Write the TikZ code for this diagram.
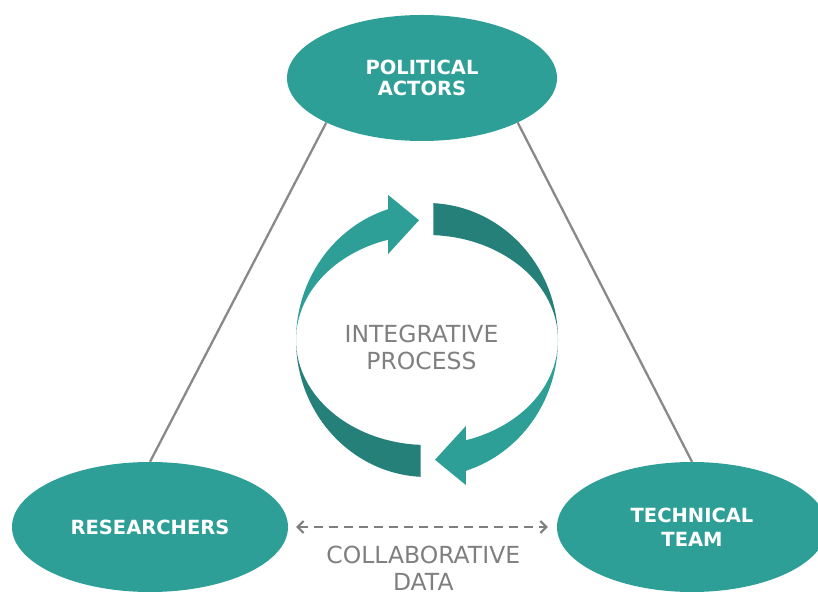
\documentclass[tikz,border=0pt]{standalone}
\usepackage{fontspec}
\setmainfont{DejaVu Sans}
\usepackage{tikz}
\usetikzlibrary{shapes}
\usetikzlibrary{positioning}
\usetikzlibrary{arrows.meta}
\definecolor{sarcelle}{RGB}{46,159,151}
\definecolor{sarcellefonce}{RGB}{38,128,122}
\definecolor{grisligne}{RGB}{137,137,137}
\definecolor{gristexte}{RGB}{127,127,127}

\begin{document}
\begin{tikzpicture}[x=1pt,y=1pt]
% définition des paramètres
\tikzstyle acteur=[ellipse,fill=sarcelle,text=white,align=center,inner sep=0pt,font=\bfseries\fontsize{19.5}{21}\selectfont]
\tikzstyle textegris=[text=gristexte,align=center,font=\fontsize{23.5}{26.7}\selectfont]
\tikzstyle traitgris=[color=grisligne,line width=2.3pt]
\tikzstyle pointilles=[color=gristexte,line width=2pt,dash pattern=on 9pt off 6pt,{Straight Barb[length=6pt,width=12pt]}-{Straight Barb[length=6pt,width=12pt]}]
\tikzstyle flecheclaire=[fill=sarcelle]
\tikzstyle flechefoncee=[fill=sarcellefonce]
\newcommand{\cerclex}{427} % centre des flèches
\newcommand{\cercley}{251}
\newcommand{\debut}{107.3}  % base de la pointe
\newcommand{\coupe}{87.2}   % bout de la partie foncée
% le cadre
\useasboundingbox (0,0) rectangle (818,591);
\clip (0,0) rectangle (818,591);
% les flèches circulaires (demi-axes 131 et 137 dehors, 131 et 105 dedans)
% la seconde moitié est tournée de 180
\foreach \rot in {0,180}{
\begin{scope}[shift={(\cerclex,\cercley)},rotate=\rot]
  \fill[flecheclaire] (180:131 and 137)
    arc[start angle=180,end angle=\debut,x radius=131,y radius=137]
    -- (\debut:131 and 152) -- (93.5:131 and 120) -- (\debut:131 and 90)
    -- (\debut:131 and 105)
    arc[start angle=\debut,end angle=180,x radius=131,y radius=105] -- cycle;
  \fill[flechefoncee] (\coupe:131 and 137)
    arc[start angle=\coupe,end angle=0,x radius=131,y radius=137]
    arc[start angle=0,end angle=\coupe,x radius=131,y radius=105] -- cycle;
\end{scope}
}
% les acteurs
\node[acteur,minimum width=270pt,minimum height=126pt] (politiques) at (422,513) {POLITICAL\\ACTORS};
\node[acteur,minimum width=276pt,minimum height=130pt] (chercheurs) at (150,64) {RESEARCHERS};
\node[acteur,minimum width=270pt,minimum height=130pt] (technique) at (692,64) {TECHNICAL\\[3pt]TEAM};
% les liens
\draw[traitgris] (politiques.205) -- (chercheurs.north);
\draw[traitgris] (politiques.335) -- (technique.north);
\draw[pointilles,shorten <=8pt,shorten >=9pt] (chercheurs.east) -- (technique.west);
% les textes
\node[textegris] (processus) at (421.5,243.8) {INTEGRATIVE\\PROCESS};
\node[textegris] (donnees) at (423.3,23) {COLLABORATIVE\\DATA};
\end{tikzpicture}
\end{document}
